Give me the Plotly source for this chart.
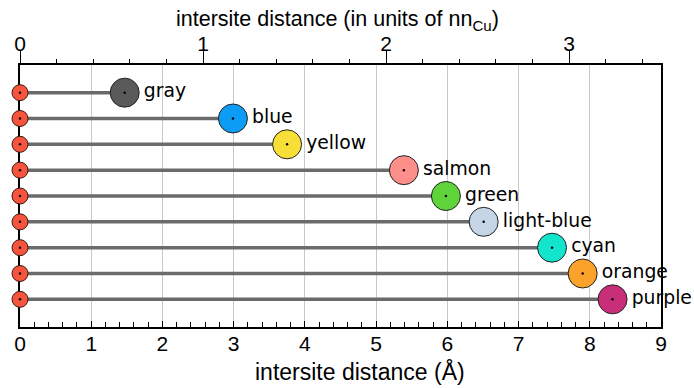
import plotly.graph_objects as go

names = ["gray", "blue", "yellow", "salmon", "green", "light-blue", "cyan", "orange", "purple"]
distances = [1.47, 2.99, 3.75, 5.39, 5.98, 6.51, 7.47, 7.90, 8.32]
colors = ["#5a5a5a", "#0d9cf5", "#f7df37", "#fc8f8a", "#5fd43a", "#c5d5e6", "#12e5cc", "#fba22b", "#c92f79"]
origin_color = "#f6543c"
nn_cu = 2.57
x_max = 9.0
bottom_ticks = list(range(0, 10))
top_ticks = [0, 1, 2, 3]
bottom_title = "intersite distance (Å)"
top_title = "intersite distance (in units of nn<sub>Cu</sub>)"

rows = list(range(len(names)))

line_x, line_y = [], []
for r, d in zip(rows, distances):
    line_x += [0, d, None]
    line_y += [r, r, None]

fig = go.Figure()
fig.add_trace(go.Scatter(x=line_x, y=line_y, mode="lines",
                         line=dict(color="#6b6b6b", width=3.5),
                         hoverinfo="skip", showlegend=False, cliponaxis=False))
fig.add_trace(go.Scatter(x=[0] * len(rows), y=rows, mode="markers",
                         marker=dict(size=16, color=origin_color, line=dict(color="#3a1a14", width=1)),
                         showlegend=False, cliponaxis=False))
fig.add_trace(go.Scatter(x=distances, y=rows, mode="markers+text", text=names,
                         textposition="middle right",
                         textfont=dict(family="DejaVu Sans", size=18.8, color="black"),
                         marker=dict(size=29, color=colors, line=dict(color="#222222", width=1)),
                         showlegend=False, cliponaxis=False))
fig.add_trace(go.Scatter(x=[0] * len(rows) + distances, y=rows + rows, mode="markers",
                         marker=dict(size=2.5, color="black"),
                         showlegend=False, cliponaxis=False))
# dummy trace for top axis
fig.add_trace(go.Scatter(x=[0, x_max / nn_cu], y=[None, None], xaxis="x2", yaxis="y",
                         showlegend=False, hoverinfo="skip"))

axis_font = dict(family="Liberation Sans", size=21, color="black")
fig.update_layout(
    width=694, height=388,
    margin=dict(l=20, r=33, t=65, b=61),
    paper_bgcolor="white", plot_bgcolor="white",
    font=axis_font,
    xaxis=dict(range=[0, x_max], tickvals=bottom_ticks, ticks="inside", ticklen=6, tickwidth=1.3,
               tickcolor="black", showgrid=True, gridcolor="#c8c8c8", gridwidth=1,
               showline=True, linecolor="black", linewidth=2, zeroline=False,
               tickfont=axis_font, automargin=False, ticklabelstandoff=-3,
               minor=dict(dtick=0.2, ticks="inside", ticklen=5, tickcolor="black", tickwidth=1.2, showgrid=False),
               layer="below traces"),
    xaxis2=dict(range=[0, x_max / nn_cu], overlaying="x", side="top", anchor="y",
                tickvals=top_ticks, ticks="outside", ticklen=12, tickwidth=1.3, tickcolor="black",
                showgrid=False, showline=True, linecolor="black", linewidth=2, zeroline=False,
                tickfont=axis_font, automargin=False, ticklabelstandoff=-8,
                minor=dict(dtick=0.2, ticks="outside", ticklen=4, tickcolor="black", tickwidth=1.2),
                layer="below traces"),
    yaxis=dict(range=[9.07, -1.07], showticklabels=False, ticks="", showgrid=False, zeroline=False,
               showline=True, mirror=True, linecolor="black", linewidth=2, layer="below traces",
               automargin=False),
    annotations=[
        dict(text=bottom_title, xref="paper", yref="paper", x=0.530, y=-0.168,
             xanchor="center", yanchor="middle", showarrow=False,
             font=dict(family="Liberation Sans", size=23, color="black")),
        dict(text=top_title, xref="paper", yref="paper", x=0.496, y=1.168,
             xanchor="center", yanchor="middle", showarrow=False,
             font=dict(family="Liberation Sans", size=21.5, color="black")),
    ],
)

fig.write_html("out.html")
